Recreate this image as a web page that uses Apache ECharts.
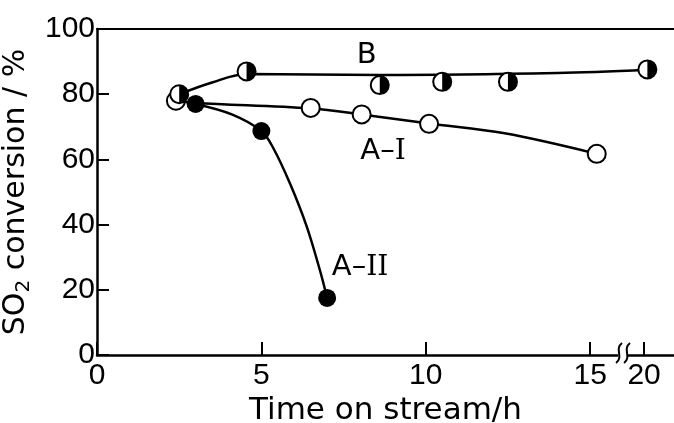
<!DOCTYPE html>
<html><head><meta charset="utf-8">
<script src="https://cdn.jsdelivr.net/npm/echarts@6/dist/echarts.min.js"></script>
<style>html,body{margin:0;padding:0;background:#fff}#c{width:674px;height:423px}</style>
</head><body><div id="c"></div>
<script>
// measured points (time on stream / h, SO2 conversion / %)
const timeB = [2.5, 4.55, 8.6, 10.5, 12.5, 20.1];
const convB = [80, 87, 82.8, 83.8, 83.8, 87.6];
const timeAI = [2.4, 6.5, 8.05, 10.1, 15.2];
const convAI = [78, 75.8, 73.8, 70.9, 61.7];
const timeAII = [3.0, 5.0, 7.0];
const convAII = [77, 68.7, 17.5];
// hand-drawn guide curves
const curveTimeB = [2.5, 3.5, 4.55, 8.6, 14, 20.1];
const curveConvB = [80, 83.6, 86.2, 85.9, 86.5, 87.5];
const curveTimeAI = [2.4, 3.0, 6.5, 8.05, 10.1, 12.4, 15.2];
const curveConvAI = [78, 77.3, 75.6, 73.8, 71, 68, 61.7];
const curveTimeAII = [3.0, 4.1, 5.0, 5.36, 5.87, 6.38, 6.78, 7.0];
const curveConvAII = [77, 73.8, 68.7, 63.5, 52.6, 39.4, 26, 17.5];
// axis ticks
const xTicks = [0, 5, 10, 15, 20];
const yTicks = [0, 20, 40, 60, 80, 100];
// curve labels: text and anchor (time, conversion)
const labelText = ['B', 'A–{r|I}', 'A–{r|II}'];
const labelTime = [8.2, 8.7, 8.0];
const labelConv = [92, 62.3, 26.7];

// broken time axis: 15..20 h compressed
const BREAK_AT = 16.0;
const SHIFT = 3.36;
const disp = t => (t <= BREAK_AT ? t : t - SHIFT);
const undisp = v => (v <= BREAK_AT ? v : v + SHIFT);
const pts = (ts, vs) => ts.map((t, i) => [disp(t), vs[i]]);

const chart = echarts.init(document.getElementById('c'), null, {renderer: 'canvas'});
const numFont = 'Liberation Sans';
const txtFont = 'DejaVu Sans';
const lineStyle = {color: '#000', width: 2.5};
const halfDisc = 'path://M0,0 A10,10 0 0,1 0,20 Z';

const option = {
  animation: false,
  backgroundColor: '#fff',
  grid: {left: 97, right: 0, top: 29, bottom: 68, containLabel: false, outerBoundsMode: 'none'},
  xAxis: [{
    type: 'value', min: 0, max: 17.55,
    axisLine: {lineStyle: {color: '#000', width: 2.5}},
    axisTick: {show: true, inside: true, length: 13, lineStyle: {color: '#000', width: 2},
      customValues: xTicks.map(disp)},
    axisLabel: {customValues: xTicks.map(disp), color: '#000', fontSize: 30, fontFamily: numFont, margin: 6,
      formatter: v => String(Math.round(undisp(v)))},
    splitLine: {show: false},
    name: 'Time on stream/h', nameLocation: 'middle', nameGap: 38,
    nameTextStyle: {color: '#000', fontSize: 31, fontFamily: txtFont}
  }, {
    type: 'value', position: 'top', min: 0, max: 17.55,
    axisLine: {show: true, lineStyle: {color: '#000', width: 2}},
    axisTick: {show: false}, axisLabel: {show: false}, splitLine: {show: false}
  }],
  yAxis: {
    type: 'value', min: 0, max: 100, interval: 20,
    axisLine: {show: true, lineStyle: {color: '#000', width: 2.5}},
    axisTick: {show: true, inside: true, length: 12, lineStyle: {color: '#000', width: 2}},
    axisLabel: {color: '#000', fontSize: 30, fontFamily: numFont, margin: 2,
      formatter: v => (yTicks.includes(v) ? String(v) : '')},
    splitLine: {show: false},
    name: 'SO{sub|2} conversion / %', nameLocation: 'middle', nameGap: 53,
    nameTextStyle: {color: '#000', fontSize: 30, fontFamily: txtFont,
      rich: {sub: {fontSize: 20, fontFamily: txtFont, color: '#000', verticalAlign: 'bottom', padding: [15, 0, 0, 0]}}}
  },
  series: [
    {type: 'line', data: pts(curveTimeB, curveConvB), smooth: 0.35, showSymbol: false, symbol: 'none', lineStyle, z: 2},
    {type: 'line', data: pts(curveTimeAI, curveConvAI), smooth: 0.35, showSymbol: false, symbol: 'none', lineStyle, z: 2},
    {type: 'line', data: pts(curveTimeAII, curveConvAII), smooth: 0.35, showSymbol: false, symbol: 'none', lineStyle, z: 2},
    {type: 'scatter', data: pts(timeAI, convAI), symbol: 'circle', symbolSize: 18,
      itemStyle: {color: '#fff', borderColor: '#000', borderWidth: 2, opacity: 1}, z: 3},
    {type: 'scatter', data: pts(timeB, convB), symbol: 'circle', symbolSize: 18,
      itemStyle: {color: '#fff', borderColor: '#000', borderWidth: 2, opacity: 1}, z: 4},
    {type: 'scatter', data: pts(timeB, convB), symbol: halfDisc, symbolSize: [9, 18], symbolOffset: [4.5, 0],
      itemStyle: {color: '#000', opacity: 1}, z: 5},
    {type: 'scatter', data: pts(timeAII, convAII), symbol: 'circle', symbolSize: 18,
      itemStyle: {color: '#000', opacity: 1}, z: 6}
  ]
};
chart.setOption(option);

// break mark on the time axis + curve labels placed through the axis scales
const p = chart.convertToPixel({xAxisIndex: 0, yAxisIndex: 0}, [BREAK_AT, 0]);
const bx = p[0], by = p[1];
const squig = dx => ({type: 'bezierCurve', z: 100,
  shape: {x1: bx + dx - 3, y1: by + 8, x2: bx + dx + 3, y2: by - 12,
    cpx1: bx + dx + 5, cpy1: by + 2, cpx2: bx + dx - 5, cpy2: by - 6},
  style: {stroke: '#000', lineWidth: 2, fill: null}});
const labels = labelText.map((s, i) => {
  const q = chart.convertToPixel({xAxisIndex: 0, yAxisIndex: 0}, [disp(labelTime[i]), labelConv[i]]);
  return {type: 'text', z: 100, x: q[0], y: q[1],
    style: {text: s, fill: '#000', font: '29px "DejaVu Sans"', align: 'center', verticalAlign: 'middle',
      rich: {r: {fill: '#000', fontSize: 28, fontFamily: 'DejaVu Serif'}}}};
});
chart.setOption({graphic: [
  {type: 'rect', z: 99, shape: {x: bx - 5, y: by - 3, width: 10, height: 6}, style: {fill: '#fff'}},
  squig(-4), squig(4)
].concat(labels)});
</script></body></html>
